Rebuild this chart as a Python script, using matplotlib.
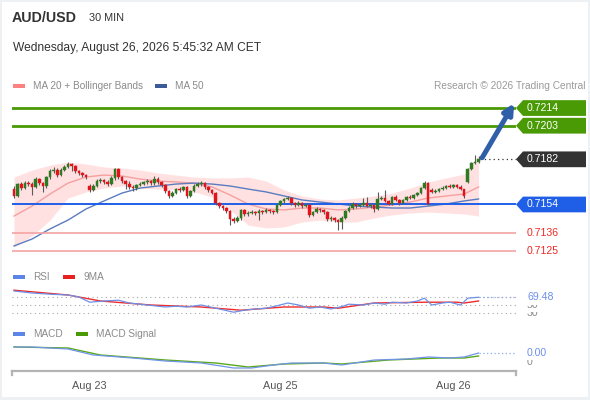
import matplotlib.pyplot as plt
import matplotlib.transforms as mtransforms
from matplotlib.patches import Rectangle, Polygon

plt.rcParams['font.family'] = ['Liberation Sans', 'DejaVu Sans']

W, H = 590, 400

# 30 min candles, AUD/USD
opens = [0.71636, 0.71593, 0.71667, 0.71642, 0.71673, 0.71667, 0.71649, 0.71698, 0.71673, 0.71655,
         0.71711, 0.71748, 0.71754, 0.71723, 0.71754, 0.71773, 0.71792, 0.71779, 0.71748, 0.71736,
         0.71723, 0.71655, 0.71630, 0.71655, 0.71686, 0.71692, 0.71680, 0.71667, 0.71705, 0.71761,
         0.71711, 0.71686, 0.71667, 0.71649, 0.71642, 0.71661, 0.71667, 0.71680, 0.71686, 0.71673,
         0.71698, 0.71680, 0.71661, 0.71624, 0.71593, 0.71611, 0.71636, 0.71630, 0.71649, 0.71593,
         0.71624, 0.71655, 0.71667, 0.71673, 0.71649, 0.71630, 0.71611, 0.71549, 0.71530, 0.71518,
         0.71500, 0.71450, 0.71437, 0.71456, 0.71506, 0.71481, 0.71487, 0.71493, 0.71487, 0.71500,
         0.71493, 0.71506, 0.71500, 0.71493, 0.71537, 0.71562, 0.71574, 0.71580, 0.71549, 0.71537,
         0.71549, 0.71530, 0.71537, 0.71475, 0.71493, 0.71512, 0.71506, 0.71493, 0.71450, 0.71456,
         0.71443, 0.71431, 0.71456, 0.71500, 0.71518, 0.71543, 0.71530, 0.71537, 0.71549, 0.71530,
         0.71537, 0.71512, 0.71574, 0.71580, 0.71562, 0.71543, 0.71587, 0.71568, 0.71549, 0.71568,
         0.71587, 0.71580, 0.71599, 0.71611, 0.71642, 0.71673, 0.71630, 0.71618, 0.71624, 0.71636,
         0.71642, 0.71655, 0.71649, 0.71661, 0.71649, 0.71636, 0.71680, 0.71761, 0.71798, 0.71804]
highs = [0.71655, 0.71673, 0.71680, 0.71686, 0.71686, 0.71680, 0.71711, 0.71705, 0.71680, 0.71717,
         0.71761, 0.71773, 0.71767, 0.71767, 0.71785, 0.71804, 0.71798, 0.71785, 0.71754, 0.71742,
         0.71729, 0.71667, 0.71667, 0.71698, 0.71705, 0.71698, 0.71692, 0.71717, 0.71767, 0.71767,
         0.71717, 0.71692, 0.71686, 0.71661, 0.71667, 0.71680, 0.71686, 0.71698, 0.71692, 0.71717,
         0.71711, 0.71686, 0.71667, 0.71630, 0.71624, 0.71642, 0.71649, 0.71655, 0.71655, 0.71630,
         0.71667, 0.71680, 0.71686, 0.71680, 0.71655, 0.71636, 0.71618, 0.71555, 0.71537, 0.71524,
         0.71506, 0.71462, 0.71468, 0.71512, 0.71512, 0.71500, 0.71506, 0.71500, 0.71512, 0.71506,
         0.71518, 0.71512, 0.71506, 0.71543, 0.71568, 0.71580, 0.71593, 0.71587, 0.71555, 0.71562,
         0.71555, 0.71549, 0.71543, 0.71500, 0.71524, 0.71518, 0.71512, 0.71500, 0.71468, 0.71462,
         0.71450, 0.71468, 0.71506, 0.71530, 0.71555, 0.71549, 0.71549, 0.71580, 0.71587, 0.71549,
         0.71543, 0.71618, 0.71593, 0.71630, 0.71568, 0.71593, 0.71599, 0.71574, 0.71574, 0.71593,
         0.71599, 0.71605, 0.71618, 0.71649, 0.71686, 0.71680, 0.71642, 0.71636, 0.71642, 0.71655,
         0.71661, 0.71667, 0.71667, 0.71667, 0.71661, 0.71636, 0.71767, 0.71804, 0.71848, 0.71841]
lows = [0.71580, 0.71587, 0.71630, 0.71636, 0.71655, 0.71599, 0.71642, 0.71661, 0.71618, 0.71642,
        0.71698, 0.71736, 0.71711, 0.71717, 0.71748, 0.71767, 0.71748, 0.71736, 0.71723, 0.71711,
        0.71698, 0.71618, 0.71624, 0.71649, 0.71673, 0.71667, 0.71655, 0.71661, 0.71692, 0.71698,
        0.71673, 0.71636, 0.71636, 0.71624, 0.71630, 0.71655, 0.71661, 0.71667, 0.71661, 0.71661,
        0.71667, 0.71649, 0.71611, 0.71580, 0.71587, 0.71605, 0.71618, 0.71624, 0.71580, 0.71587,
        0.71618, 0.71649, 0.71655, 0.71636, 0.71618, 0.71605, 0.71537, 0.71518, 0.71506, 0.71487,
        0.71412, 0.71425, 0.71431, 0.71443, 0.71468, 0.71468, 0.71481, 0.71475, 0.71443, 0.71481,
        0.71487, 0.71487, 0.71481, 0.71487, 0.71530, 0.71549, 0.71568, 0.71537, 0.71524, 0.71530,
        0.71518, 0.71524, 0.71462, 0.71468, 0.71487, 0.71493, 0.71481, 0.71437, 0.71437, 0.71431,
        0.71381, 0.71388, 0.71450, 0.71493, 0.71512, 0.71518, 0.71524, 0.71530, 0.71524, 0.71518,
        0.71493, 0.71506, 0.71568, 0.71555, 0.71537, 0.71537, 0.71562, 0.71537, 0.71543, 0.71562,
        0.71574, 0.71574, 0.71593, 0.71605, 0.71636, 0.71537, 0.71611, 0.71611, 0.71618, 0.71630,
        0.71636, 0.71642, 0.71642, 0.71642, 0.71630, 0.71580, 0.71673, 0.71754, 0.71792, 0.71798]
closes = [0.71593, 0.71667, 0.71642, 0.71673, 0.71667, 0.71649, 0.71698, 0.71673, 0.71655, 0.71711,
          0.71748, 0.71754, 0.71723, 0.71754, 0.71773, 0.71792, 0.71779, 0.71748, 0.71736, 0.71723,
          0.71711, 0.71630, 0.71655, 0.71686, 0.71692, 0.71680, 0.71667, 0.71705, 0.71761, 0.71711,
          0.71686, 0.71667, 0.71649, 0.71642, 0.71661, 0.71667, 0.71680, 0.71686, 0.71673, 0.71698,
          0.71680, 0.71661, 0.71624, 0.71593, 0.71611, 0.71636, 0.71630, 0.71649, 0.71593, 0.71624,
          0.71655, 0.71667, 0.71673, 0.71649, 0.71630, 0.71611, 0.71549, 0.71530, 0.71518, 0.71500,
          0.71450, 0.71437, 0.71456, 0.71506, 0.71481, 0.71487, 0.71493, 0.71487, 0.71500, 0.71493,
          0.71506, 0.71500, 0.71493, 0.71537, 0.71562, 0.71574, 0.71580, 0.71549, 0.71537, 0.71549,
          0.71530, 0.71537, 0.71475, 0.71493, 0.71512, 0.71506, 0.71493, 0.71450, 0.71456, 0.71443,
          0.71431, 0.71456, 0.71500, 0.71518, 0.71543, 0.71530, 0.71537, 0.71549, 0.71530, 0.71537,
          0.71512, 0.71574, 0.71580, 0.71562, 0.71543, 0.71587, 0.71568, 0.71549, 0.71568, 0.71587,
          0.71580, 0.71599, 0.71611, 0.71642, 0.71673, 0.71543, 0.71618, 0.71624, 0.71636, 0.71642,
          0.71655, 0.71649, 0.71661, 0.71649, 0.71636, 0.71593, 0.71761, 0.71798, 0.71804, 0.71821]

# moving averages / bands, read every 5 candles
ma_idx = [0, 5, 10, 15, 20, 25, 30, 35, 40, 45, 50, 55, 60, 65, 70, 75, 80, 85, 90, 95,
          100, 105, 110, 115, 120, 125, 129]
ma20 = [0.71468, 0.71530, 0.71605, 0.71673, 0.71711, 0.71723, 0.71717, 0.71698, 0.71686, 0.71680,
        0.71673, 0.71649, 0.71599, 0.71543, 0.71512, 0.71506, 0.71518, 0.71518, 0.71506, 0.71512,
        0.71524, 0.71537, 0.71555, 0.71580, 0.71593, 0.71605, 0.71649]
bb_upper = [0.71711, 0.71754, 0.71785, 0.71804, 0.71792, 0.71773, 0.71767, 0.71754, 0.71736, 0.71723,
            0.71711, 0.71705, 0.71705, 0.71711, 0.71686, 0.71630, 0.71593, 0.71574, 0.71568, 0.71580,
            0.71593, 0.71611, 0.71642, 0.71680, 0.71705, 0.71729, 0.71848]
bb_lower = [0.71275, 0.71344, 0.71443, 0.71580, 0.71618, 0.71642, 0.71655, 0.71642, 0.71636, 0.71630,
            0.71618, 0.71587, 0.71506, 0.71412, 0.71394, 0.71400, 0.71431, 0.71443, 0.71431, 0.71431,
            0.71456, 0.71475, 0.71487, 0.71493, 0.71487, 0.71481, 0.71468]
ma50 = [0.71282, 0.71325, 0.71388, 0.71443, 0.71512, 0.71562, 0.71611, 0.71642, 0.71655, 0.71667,
        0.71673, 0.71667, 0.71655, 0.71636, 0.71618, 0.71593, 0.71568, 0.71555, 0.71543, 0.71530,
        0.71524, 0.71518, 0.71518, 0.71530, 0.71543, 0.71562, 0.71574]

# RSI panel
rsi_idx = [0, 3, 5, 10, 15, 18, 21, 25, 29, 32, 35, 39, 42, 45, 48, 52, 56, 58, 61, 64, 67,
           70, 73, 76, 79, 82, 85, 88, 91, 93, 97, 100, 103, 105, 109, 112, 114, 116, 119,
           121, 124, 126, 129]
rsi = [85, 82, 80, 77, 75, 70, 57, 60, 62, 55, 52, 48, 45, 47, 45, 50, 42, 38, 32, 37, 40,
       42, 48, 55, 50, 42, 45, 40, 46, 52, 50, 55, 52, 57, 55, 60, 67, 50, 55, 57, 50, 67, 69.48]
rsi_ma_idx = [0, 15, 24, 38, 52, 63, 75, 86, 90, 100, 114, 123, 125, 129]
rsi_ma = [87, 75, 60, 50, 45, 37, 45, 45, 42, 55, 57, 57, 55, 60]
rsi_levels = [70, 50, 30]

# MACD panel
macd_idx = [0, 5, 15, 22, 33, 42, 52, 61, 66, 72, 77, 86, 91, 100, 109, 115, 121, 125, 129]
macd = [0.00030, 0.00030, 0.00026, 0.00014, 0.00008, 0.00002, -0.00002, -0.00012, -0.00012, -0.00006,
        -0.00002, -0.00002, -0.00006, 0.00004, 0.00006, 0.00010, 0.00008, 0.00010, 0.00018]
signal_idx = [0, 15, 24, 42, 56, 65, 75, 86, 91, 104, 118, 125, 129]
signal = [0.00030, 0.00028, 0.00014, 0.00004, -0.00002, -0.00010, -0.00004, -0.00002, -0.00004,
          0.00004, 0.00008, 0.00008, 0.00012]

# key levels
resistances = [0.7214, 0.7203]
pivot = 0.7154
supports = [0.7136, 0.7125]

tick_pos = [21, 74, 122]
tick_labels = ['Aug 23', 'Aug 25', 'Aug 26']

GREEN = '#4a9a06'
BLUE = '#1f5fe8'
RED_TXT = '#ee2a24'
GREY = '#8a8a8a'


def px_rect(x0, y0, x1, y1):
    return [x0 / W, 1 - y1 / H, (x1 - x0) / W, (y1 - y0) / H]


fig = plt.figure(figsize=(W / 100, H / 100), dpi=100, facecolor='#eef1f4')
fig.patches.append(Rectangle((2 / W, 3 / H), 586 / W, 395 / H, transform=fig.transFigure,
                             facecolor='white', edgecolor='none', zorder=-1))

xlim = (-0.56, 139.4)

# ---- price panel ----
ax = fig.add_axes(px_rect(12, 100, 516, 258))
ax.set_xlim(*xlim)
ax.set_ylim(0.71207, 0.72190)
ax.axis('off')

ax.fill_between(ma_idx, bb_lower, bb_upper, color='#ffe1e1', lw=0, zorder=1)
ax.plot(ma_idx, ma20, color='#f5a0a0', lw=1, zorder=2)
ax.plot(ma_idx, ma50, color='#5a7cc0', lw=1, zorder=2)

for lvl in resistances:
    ax.axhline(lvl, color=GREEN, lw=2, zorder=3)
ax.axhline(pivot, color=BLUE, lw=1.4, zorder=3)
for lvl in supports:
    ax.axhline(lvl, color='#f4a3a3', lw=1.2, zorder=3)

n = len(closes)
for i in range(n):
    o, c = opens[i], closes[i]
    col = '#2e7a22' if c >= o else '#e3131b'
    ax.vlines(i, lows[i], highs[i], color='#5a5a5a', lw=0.8, zorder=4)
    body = max(abs(c - o), 0.00003)
    ax.bar(i, body, bottom=min(o, c), width=0.72, color=col, edgecolor=col, lw=0.3, zorder=5)

last = closes[-1]
ax.plot([n - 0.5, xlim[1]], [last, last], color='#333333', lw=0.9, ls=(0, (1, 2.5)), zorder=3,
        clip_on=False)
ax.annotate('', xy=(n + 8.9, resistances[0] + 0.0003), xytext=(n, last + 0.0001),
            arrowprops=dict(arrowstyle='-|>', mutation_scale=15, lw=3.6, color='#2f5fa8',
                            shrinkA=0, shrinkB=0),
            annotation_clip=False, zorder=6)

trans = mtransforms.blended_transform_factory(ax.transAxes, ax.transData)
hh = 0.00049
u = 1 / 504.0


def tag(level, text, fc):
    pts = [(1, level), (1 + 7 * u, level + hh), (1 + 70 * u, level + hh),
           (1 + 70 * u, level - hh), (1 + 7 * u, level - hh)]
    ax.add_patch(Polygon(pts, closed=True, transform=trans, facecolor=fc, edgecolor='none',
                         clip_on=False, zorder=7))
    ax.text(1 + 11 * u, level, text, transform=trans, color='white', fontsize=7.6,
            va='center', ha='left', clip_on=False, zorder=8)


for lvl in resistances:
    tag(lvl, f'{lvl:.4f}', GREEN)
tag(last, f'{last:.4f}', '#333333')
tag(pivot, f'{pivot:.4f}', BLUE)
for lvl in supports:
    ax.text(1 + 11 * u, lvl, f'{lvl:.4f}', transform=trans, color=RED_TXT, fontsize=7.6,
            va='center', ha='left', clip_on=False)

# ---- RSI panel ----
ax2 = fig.add_axes(px_rect(12, 285, 516, 325))
ax2.set_xlim(*xlim)
ax2.set_ylim(0, 100)
ax2.axis('off')
for lv in rsi_levels:
    ax2.axhline(lv, color='#a8a8a8', lw=0.8, ls=(0, (1, 3)))
ax2.plot(rsi_ma_idx, rsi_ma, color='#ee2a2a', lw=1)
ax2.plot(rsi_idx, rsi, color='#6d90e8', lw=0.9)
ax2.plot([rsi_idx[-1], xlim[1]], [rsi[-1], rsi[-1]], color='#8fa9ee', lw=0.9, ls=(0, (1, 2)),
         clip_on=False)
t2 = mtransforms.blended_transform_factory(ax2.transAxes, ax2.transData)
box = dict(boxstyle='square,pad=0.22', fc='white', ec='none')
for k, lv in enumerate(sorted(rsi_levels)):
    ax2.text(1 + 11 * u, lv, str(lv), transform=t2, color='#8a8a8a', fontsize=7.6, va='center',
             ha='left', clip_on=False, bbox=box, zorder=10 + k)
ax2.text(1 + 11 * u, rsi[-1], f'{rsi[-1]:.2f}', transform=t2, color='#6d90e8', fontsize=7.6,
         va='center', ha='left', clip_on=False, bbox=box, zorder=20)

# ---- MACD panel ----
ax3 = fig.add_axes(px_rect(12, 343, 516, 371))
ax3.set_xlim(*xlim)
ax3.set_ylim(-0.00018, 0.00038)
for s in ['top', 'left', 'right']:
    ax3.spines[s].set_visible(False)
ax3.spines['bottom'].set_color('#b4b4b4')
ax3.spines['bottom'].set_linewidth(1.6)
ax3.set_yticks([])
ax3.set_xticks(tick_pos)
ax3.set_xticklabels(tick_labels, fontsize=7.8, color='#555555')
ax3.tick_params(axis='x', length=0, pad=7)
ax3.patch.set_alpha(0)
for xe in (0, 1):
    ax3.plot([xe, xe], [0, -0.15], transform=ax3.transAxes, color='#b4b4b4', lw=1.6,
             clip_on=False)
ax3.plot(signal_idx, signal, color='#5aa81a', lw=1)
ax3.plot(macd_idx, macd, color='#7094e8', lw=0.9)
ax3.plot([macd_idx[-1], xlim[1]], [macd[-1], macd[-1]], color='#8fa9ee', lw=0.9,
         ls=(0, (1, 2)), clip_on=False)
t3 = mtransforms.blended_transform_factory(ax3.transAxes, ax3.transData)
ax3.text(1 + 11 * u, 0, '0', transform=t3, color='#8a8a8a', fontsize=7.6, va='center', ha='left',
         clip_on=False, bbox=box, zorder=10)
ax3.text(1 + 11 * u, macd[-1], f'{abs(macd[-1]):.2f}', transform=t3, color='#6d90e8',
         fontsize=7.6, va='center', ha='left', clip_on=False, bbox=box, zorder=11)

# ---- header / legends ----
ov = fig.add_axes([0, 0, 1, 1], zorder=5)
ov.set_xlim(0, W)
ov.set_ylim(H, 0)
ov.axis('off')
ov.patch.set_alpha(0)

ov.text(12, 18, 'AUD/USD', fontsize=10.3, fontweight='bold', color='#333333', va='center')
ov.text(89, 18, '30 MIN', fontsize=7.8, color='#333333', va='center')
ov.text(13, 48, 'Wednesday, August 26, 2026 5:45:32 AM CET', fontsize=8.65, color='#333333',
        va='center')


def legend_item(x, y, color, label, w=12):
    ov.add_patch(Rectangle((x, y - 2), w, 4, facecolor=color, edgecolor='none'))
    ov.text(x + w + 8, y, label, fontsize=7.2, color=GREY, va='center')


legend_item(13, 86, '#ff8080', 'MA 20 + Bollinger Bands')
legend_item(155, 86, '#3d5a99', 'MA 50')
ov.text(586, 86, 'Research \u00a9 2026 Trading Central', fontsize=7.3, color='#9a9a9a',
        va='center', ha='right')
legend_item(13, 277, '#5b85e6', 'RSI')
legend_item(63, 277, '#e82020', '9MA')
legend_item(13, 334, '#5b85e6', 'MACD')
legend_item(76, 334, GREEN, 'MACD Signal')

fig.savefig('out.png', dpi=100, facecolor=fig.get_facecolor())
